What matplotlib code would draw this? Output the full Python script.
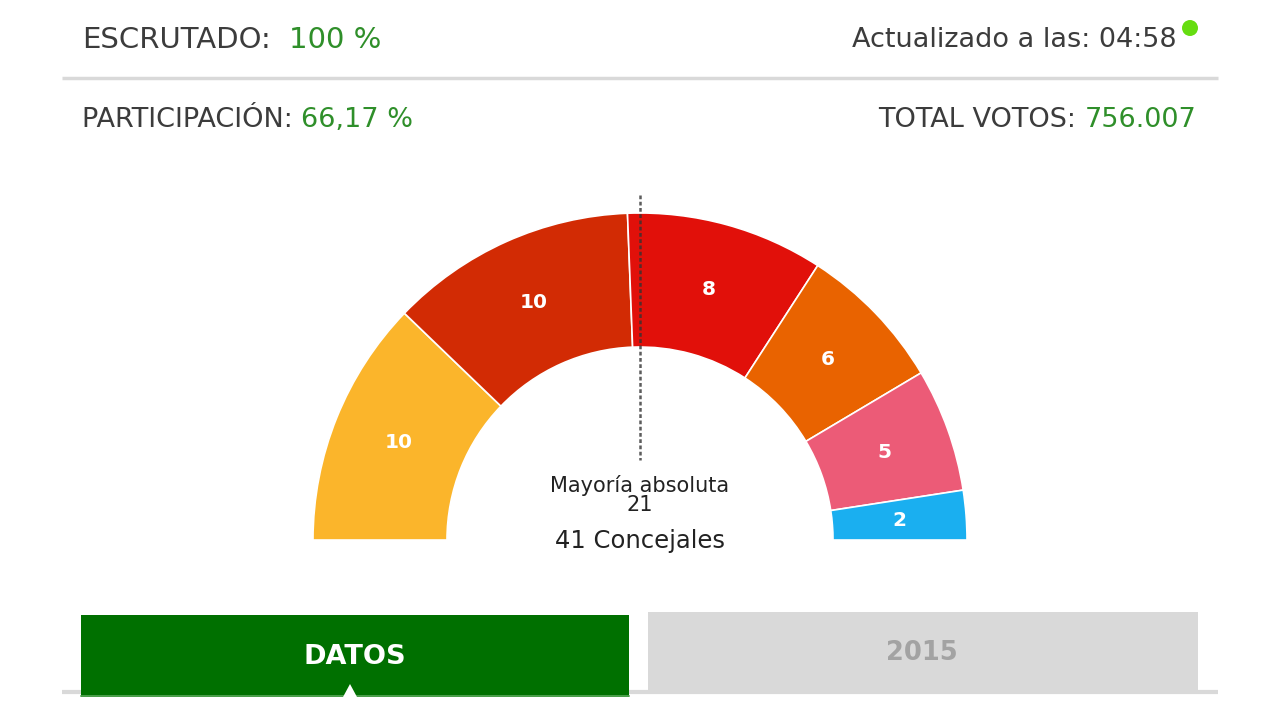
import numpy as np
import matplotlib.pyplot as plt
from matplotlib.patches import Wedge, Rectangle, Circle, Polygon

# data
seats = [10, 10, 8, 6, 5, 2]
colors = ['#fbb52b', '#d22b04', '#e1100a', '#e96300', '#ec5b77', '#1aaff0']
total_seats = 41
majority = 21
escrutado = '100 %'
actualizado = '04:58'
participacion = '66,17 %'
total_votos = '756.007'
tabs = ['DATOS', '2015']

W, H = 1280, 719
plt.rcParams['font.family'] = ['DejaVu Sans']

fig = plt.figure(figsize=(W / 100, H / 100), dpi=100)
ax = fig.add_axes([0, 0, 1, 1])
ax.set_xlim(0, W)
ax.set_ylim(0, H)
ax.axis('off')

def y(p):
    # pixel row -> axis y
    return H - p

GREY_TXT = '#3c3c3c'
GREEN_TXT = '#2f8f2a'
LINE = '#d9d9d9'
FS = 19.5

# header
t = ax.text(82, y(40), 'ESCRUTADO:', fontsize=21, color=GREY_TXT, va='center', ha='left')
fig.canvas.draw()
bb = t.get_window_extent()
ax.text(bb.x1 + 18, y(40), escrutado, fontsize=21, color=GREEN_TXT, va='center', ha='left')

ax.text(1177, y(40), 'Actualizado a las: ' + actualizado, fontsize=FS, color=GREY_TXT,
        va='center', ha='right')
ax.add_patch(Circle((1190, y(28)), 8, color='#66dd11', lw=0))

ax.plot([62, 1218], [y(78), y(78)], color=LINE, lw=2.5, solid_capstyle='butt')

t = ax.text(82, y(120), 'PARTICIPACIÓN: ', fontsize=FS, color=GREY_TXT, va='center', ha='left')
fig.canvas.draw()
bb = t.get_window_extent()
ax.text(bb.x1, y(120), participacion, fontsize=FS, color=GREEN_TXT, va='center', ha='left')

t = ax.text(1197, y(120), total_votos, fontsize=FS, color=GREEN_TXT, va='center', ha='right')
fig.canvas.draw()
bb = t.get_window_extent()
ax.text(bb.x0, y(120), 'TOTAL VOTOS: ', fontsize=FS, color=GREY_TXT, va='center', ha='right')

# hemicycle
cx, cy = 640, y(540)
R, r = 327, 193
start = 180.0
for n, c in zip(seats, colors):
    span = 180.0 * n / total_seats
    end = start - span
    ax.add_patch(Wedge((cx, cy), R, end, start, width=R - r, facecolor=c,
                       edgecolor='white', lw=1.2))
    mid = np.radians((start + end) / 2)
    rm = (R + r) / 2
    ax.text(cx + rm * np.cos(mid), cy + rm * np.sin(mid), str(n), color='white',
            fontsize=14.5, fontweight='bold', ha='center', va='center')
    start = end

ax.plot([cx, cx], [y(195), y(460)], color='#333333', lw=1.8, ls=(0, (1.5, 1.0)), alpha=0.8)

ax.text(cx, y(485), 'Mayoría absoluta', fontsize=15, color='#222222', ha='center', va='center')
ax.text(cx, y(505), str(majority), fontsize=15, color='#222222', ha='center', va='center')
ax.text(cx, y(541), f'{total_seats} Concejales', fontsize=17.5, color='#222222', ha='center', va='center')

# tabs
ax.add_patch(Rectangle((648, y(691)), 550, 79, color='#d9d9d9', lw=0))
ax.plot([62, 1218], [y(692), y(692)], color=LINE, lw=3, solid_capstyle='butt')
ax.add_patch(Rectangle((81, y(697)), 548, 82, color='#007000', lw=0, zorder=3))
ax.plot([81, 629], [y(696), y(696)], color='#5aa85a', lw=1.2, zorder=3.5)
ax.add_patch(Polygon([(343, y(697)), (357, y(697)), (350, y(684))], closed=True,
                     color='white', lw=0, zorder=4))
ax.text(355, y(657), tabs[0], fontsize=19.5, fontweight='bold', color='white', ha='center',
        va='center', zorder=5)
ax.text(922, y(653), tabs[1], fontsize=18.5, fontweight='bold', color='#a3a3a3', ha='center', va='center')

fig.savefig('out.png', dpi=100)
